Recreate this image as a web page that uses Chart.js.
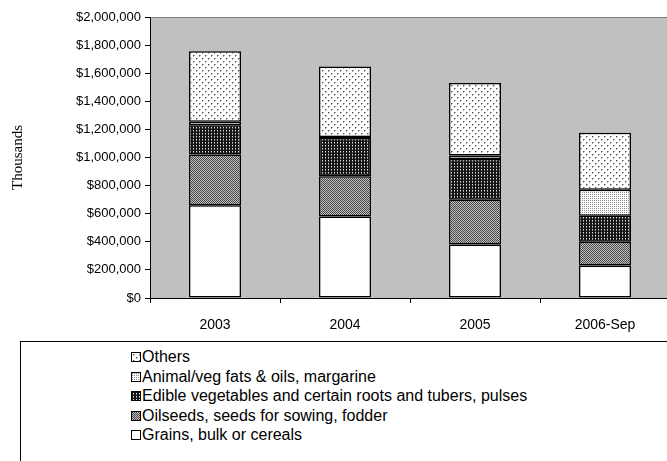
<!DOCTYPE html>
<html>
<head>
<meta charset="utf-8">
<script src="https://cdn.jsdelivr.net/npm/chart.js@4"></script>
<style>
  html, body { margin: 0; padding: 0; background: #fff; width: 667px; height: 461px; overflow: hidden; }
  #wrap { position: relative; width: 667px; height: 461px; overflow: hidden; }
  #chartBox { position: absolute; left: 0; top: 0; width: 690px; height: 340px; }
  #legend { position: absolute; left: 20px; top: 341px; width: 700px; height: 130px; border: 1px solid #000;
            font-family: "Liberation Sans", Arial, sans-serif; font-size: 16px; color: #000; }
  .row { position: absolute; left: 110px; height: 19px; line-height: 19px; white-space: nowrap; }
  .sw { display: inline-block; width: 8px; height: 8px; border: 1px solid #000; margin-right: 1px; vertical-align: 0px; }
</style>
</head>
<body>
<div id="wrap">
  <div id="chartBox"><canvas id="BarChart" width="690" height="340"></canvas></div>
  <div id="legend"></div>
</div>
<script>
var years = ["2003", "2004", "2005", "2006-Sep"];
var seriesNames = ["Grains, bulk or cereals", "Oilseeds, seeds for sowing, fodder",
  "Edible vegetables and certain roots and tubers, pulses", "Animal/veg fats & oils, margarine", "Others"];
var grains   = [660000, 580000, 380000, 232000];
var oilseeds = [362000, 286000, 320000, 168000];
var edible   = [208000, 272000, 290000, 185000];
var fats     = [25000, 8000, 25000, 185000];
var others   = [502000, 501000, 515000, 406000];
var yTicks   = [0, 200000, 400000, 600000, 800000, 1000000, 1200000, 1400000, 1600000, 1800000, 2000000];

// small tiles for the hatch fills
function tile(w, h, bg, pix) {
  var c = document.createElement('canvas');
  c.width = w; c.height = h;
  var g = c.getContext('2d');
  g.fillStyle = bg; g.fillRect(0, 0, w, h);
  pix.forEach(function (p) { g.fillStyle = p[2]; g.fillRect(p[0], p[1], 1, 1); });
  return c;
}
var tiles = [
  tile(2, 2, '#ffffff', []),
  tile(2, 2, '#c0c0c0', [[0, 0, '#484848'], [1, 1, '#484848']]),
  tile(3, 3, '#151515', [[1, 1, '#e0e0e0'], [1, 2, '#7a7a7a']]),
  tile(2, 2, '#ffffff', [[0, 0, '#8a8a8a']]),
  tile(6, 6, '#ffffff', [[1, 1, '#555'], [2, 1, '#aaa'], [1, 2, '#aaa'], [4, 4, '#555'], [5, 4, '#aaa'], [4, 5, '#aaa']])
];
var ctxBar = document.getElementById('BarChart');
var c2d = ctxBar.getContext('2d');
var fills = tiles.map(function (t) { return c2d.createPattern(t, 'repeat'); });
var values = [grains, oilseeds, edible, fats, others];

var plotBg = {
  id: 'plotBg',
  beforeDraw: function (chart) {
    var a = chart.chartArea, g = chart.ctx;
    g.save();
    g.fillStyle = '#c0c0c0';
    g.fillRect(a.left, a.top, a.right - a.left, a.bottom - a.top);
    g.strokeStyle = '#808080'; g.lineWidth = 1;
    g.strokeRect(a.left + 0.5, a.top + 0.5, a.right - a.left, a.bottom - a.top);
    g.restore();
  }
};

var data = {
  labels: years,
  datasets: seriesNames.map(function (n, i) {
    return {
      label: n, data: values[i], backgroundColor: fills[i],
      borderColor: '#000', borderWidth: 1.5, borderSkipped: false,
      barPercentage: 0.4, categoryPercentage: 1
    };
  })
};

var chart = new Chart(ctxBar, {
  type: 'bar',
  data: data,
  plugins: [plotBg],
  options: {
    responsive: false,
    animation: false,
    layout: { padding: { top: 17, right: 20, left: 0, bottom: 0 } },
    plugins: { legend: { display: false }, tooltip: { enabled: false } },
    scales: {
      x: {
        stacked: true,
        grid: { offset: true, drawOnChartArea: false, tickLength: 5, color: '#000' },
        border: { color: '#000' },
        ticks: { color: '#000', padding: 14, font: { family: 'Liberation Sans', size: 14 }, maxRotation: 0 },
        afterFit: function (s) { s.height = 42; }
      },
      y: {
        stacked: true, min: 0, max: 2000000,
        afterBuildTicks: function (s) { s.ticks = yTicks.map(function (v) { return { value: v }; }); },
        grid: { drawOnChartArea: false, tickLength: 5, color: '#000' },
        border: { color: '#000' },
        ticks: {
          color: '#000', padding: 4, font: { family: 'Liberation Sans', size: 13 },
          callback: function (v) { return '$' + Number(v).toLocaleString('en-US'); }
        },
        title: { display: true, text: 'Thousands', color: '#000', padding: { top: 9, bottom: 0 },
                 font: { family: 'Liberation Serif', size: 15 } },
        afterFit: function (s) { s.width = 150; }
      }
    }
  }
});

// legend, top series first
var legendEl = document.getElementById('legend');
chart.data.datasets.slice().reverse().forEach(function (ds, k) {
  var i = seriesNames.indexOf(ds.label);
  var row = document.createElement('div');
  row.className = 'row';
  row.style.top = (5 + k * 19.5) + 'px';
  var sw = document.createElement('span');
  sw.className = 'sw';
  sw.style.backgroundImage = 'url(' + tiles[i].toDataURL() + ')';
  row.appendChild(sw);
  row.appendChild(document.createTextNode(ds.label));
  legendEl.appendChild(row);
});
</script>
</body>
</html>
